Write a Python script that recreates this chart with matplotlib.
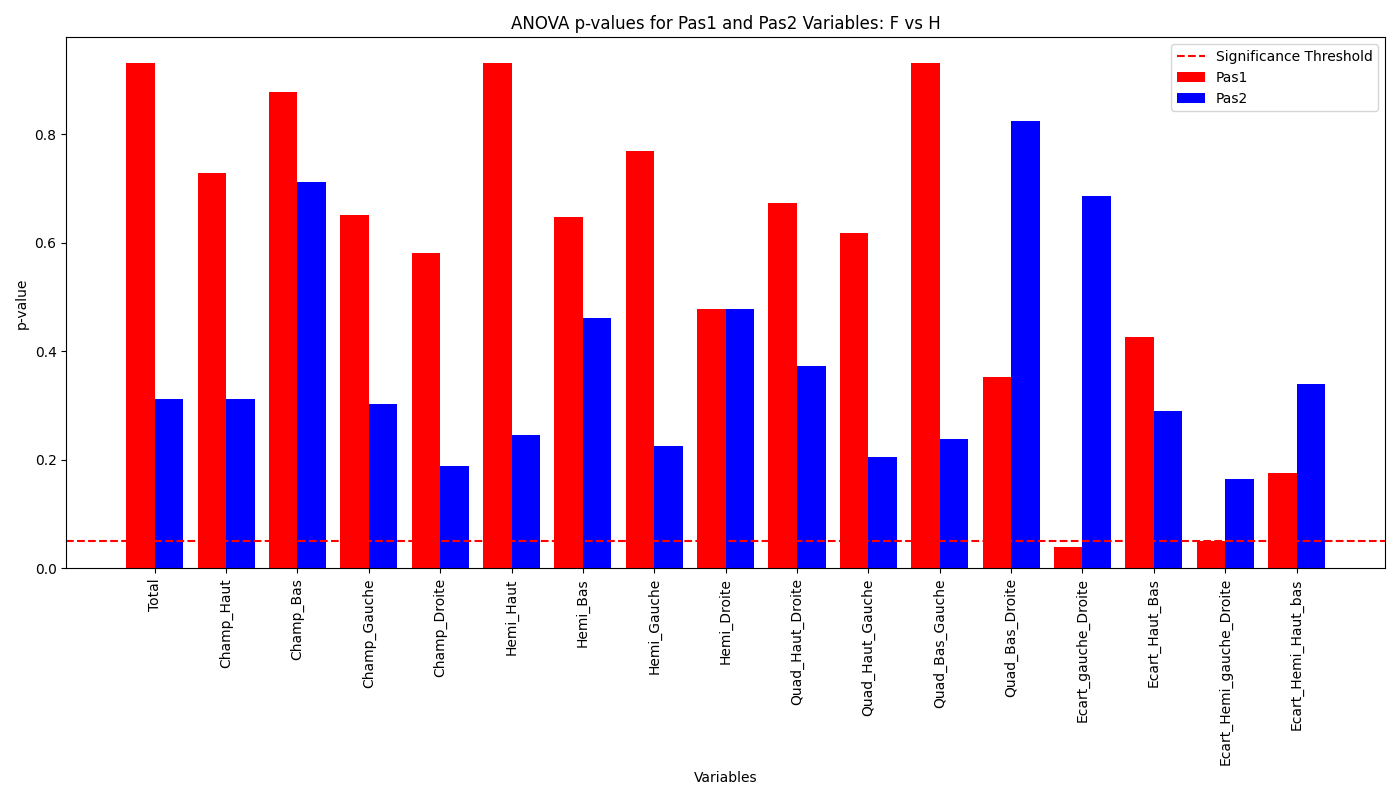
import matplotlib
matplotlib.use("Agg")
import matplotlib.pyplot as plt
import numpy as np

variables = ["Total", "Champ_Haut", "Champ_Bas", "Champ_Gauche", "Champ_Droite",
             "Hemi_Haut", "Hemi_Bas", "Hemi_Gauche", "Hemi_Droite",
             "Quad_Haut_Droite", "Quad_Haut_Gauche", "Quad_Bas_Gauche", "Quad_Bas_Droite",
             "Ecart_gauche_Droite", "Ecart_Haut_Bas", "Ecart_Hemi_gauche_Droite",
             "Ecart_Hemi_Haut_bas"]
pas1 = [0.932, 0.728, 0.877, 0.651, 0.581, 0.932, 0.647, 0.769, 0.478,
        0.673, 0.618, 0.932, 0.353, 0.039, 0.427, 0.050, 0.175]
pas2 = [0.313, 0.313, 0.712, 0.303, 0.188, 0.246, 0.462, 0.226, 0.478,
        0.373, 0.206, 0.239, 0.824, 0.686, 0.291, 0.164, 0.340]
threshold = 0.05

x = np.arange(len(variables))
width = 0.4

fig, ax = plt.subplots(figsize=(14, 8), dpi=100)
ax.bar(x - width / 2, pas1, width, color="red", label="Pas1")
ax.bar(x + width / 2, pas2, width, color="blue", label="Pas2")
ax.axhline(threshold, color="red", linestyle="--", label="Significance Threshold")
ax.set_xticks(x)
ax.set_xticklabels(variables, rotation=90)
ax.set_xlabel("Variables")
ax.set_ylabel("p-value")
ax.set_title("ANOVA p-values for Pas1 and Pas2 Variables: F vs H")
ax.legend()
plt.tight_layout()
plt.savefig("out.png")
